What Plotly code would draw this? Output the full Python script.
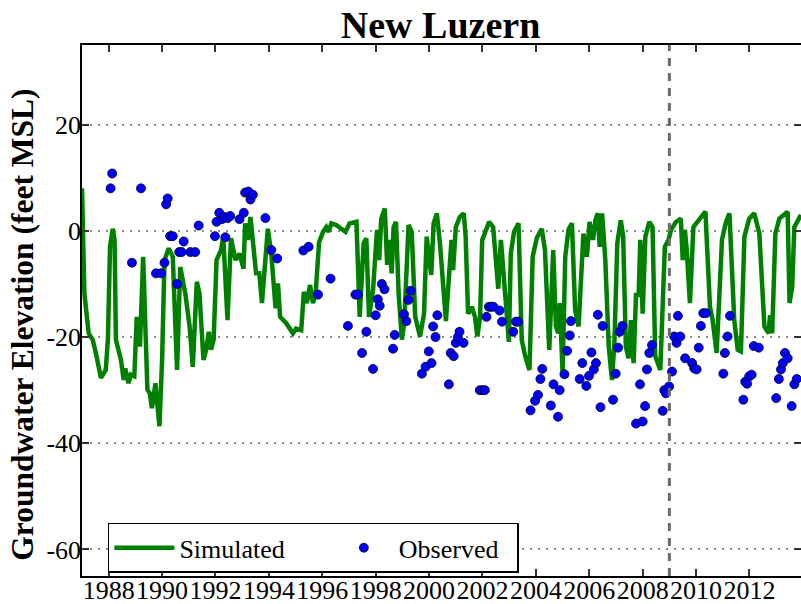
import plotly.graph_objects as go

title_text = "New Luzern"
y_label = "Groundwater Elevation (feet MSL)"
split_year = 2009.0

# simulated head (decimal year, feet MSL)
sim_year = [
    1987.00, 1987.09, 1987.25, 1987.40, 1987.52, 1987.71, 1987.89, 1987.97, 1988.05, 1988.15,
    1988.22, 1988.27, 1988.46, 1988.56, 1988.62, 1988.74, 1988.83, 1988.96, 1989.05, 1989.17,
    1989.29, 1989.45, 1989.54, 1989.62, 1989.75, 1989.90, 1990.00, 1990.09, 1990.25, 1990.40,
    1990.56, 1990.68, 1990.87, 1991.03, 1991.15, 1991.30, 1991.40, 1991.55, 1991.65, 1991.75,
    1991.83, 1991.93, 1992.04, 1992.21, 1992.29, 1992.45, 1992.58, 1992.75, 1992.90, 1993.05,
    1993.11, 1993.21, 1993.31, 1993.40, 1993.52, 1993.64, 1993.74, 1993.96, 1994.09, 1994.25,
    1994.34, 1994.42, 1994.52, 1994.65, 1994.90, 1995.02, 1995.21, 1995.31, 1995.42, 1995.54,
    1995.65, 1995.75, 1995.88, 1996.03, 1996.15, 1996.24, 1996.34, 1996.52, 1996.87, 1997.02,
    1997.28, 1997.40, 1997.55, 1997.65, 1997.75, 1997.90, 1998.05, 1998.13, 1998.21, 1998.34,
    1998.43, 1998.50, 1998.60, 1998.67, 1998.76, 1998.86, 1998.98, 1999.07, 1999.23, 1999.35,
    1999.48, 1999.66, 1999.81, 1999.91, 2000.08, 2000.17, 2000.29, 2000.41, 2000.63, 2000.77,
    2000.84, 2000.90, 2001.00, 2001.15, 2001.30, 2001.37, 2001.46, 2001.60, 2001.72, 2001.81,
    2001.91, 2001.99, 2002.09, 2002.25, 2002.40, 2002.50, 2002.59, 2002.69, 2002.78, 2002.86,
    2002.99, 2003.06, 2003.18, 2003.35, 2003.47, 2003.60, 2003.76, 2003.88, 2004.03, 2004.22,
    2004.34, 2004.50, 2004.65, 2004.75, 2004.84, 2004.90, 2005.00, 2005.10, 2005.22, 2005.35,
    2005.47, 2005.60, 2005.78, 2005.91, 2006.01, 2006.14, 2006.23, 2006.32, 2006.39, 2006.48,
    2006.60, 2006.73, 2006.85, 2006.94, 2007.05, 2007.18, 2007.27, 2007.37, 2007.47, 2007.56,
    2007.66, 2007.75, 2007.85, 2007.91, 2008.00, 2008.10, 2008.25, 2008.37, 2008.47, 2008.66,
    2008.83, 2008.97, 2009.06, 2009.25, 2009.43, 2009.50, 2009.58, 2009.65, 2009.77, 2009.90,
    2010.06, 2010.35, 2010.52, 2010.62, 2010.77, 2010.97, 2011.12, 2011.25, 2011.43, 2011.56,
    2011.68, 2011.81, 2011.99, 2012.18, 2012.37, 2012.56, 2012.72, 2012.77, 2012.85, 2012.97,
    2013.12, 2013.43, 2013.50, 2013.60, 2013.68, 2013.85, 2013.93,
]
sim_level = [
    8.0, -11.8, -19.3, -20.5, -23.0, -27.7, -26.2, -20.5, -3.0, 0.4,
    -1.7, -20.5, -24.3, -28.1, -25.9, -28.7, -27.1, -27.4, -16.2, -21.8,
    -4.9, -29.9, -30.6, -33.4, -28.7, -36.8, -24.3, -5.5, -3.3, -4.9,
    -26.2, -6.8, -11.8, -18.0, -25.6, -9.6, -11.8, -24.3, -22.4, -19.0,
    -22.4, -20.5, -5.5, -3.6, -1.1, -16.8, -1.4, -5.5, -4.3, -7.1,
    1.4, -1.7, 2.6, -2.3, -8.0, -8.0, -13.6, 0.4, -4.3, -14.6,
    -9.9, -16.2, -16.8, -17.4, -19.3, -18.4, -18.7, -11.5, -13.6, -10.2,
    -13.6, -11.8, -2.1, -0.2, 0.7, -0.2, 1.4, 1.1, -0.2, 1.4,
    1.7, -16.2, -2.3, -1.4, -16.2, -11.2, 0.2, -5.5, 2.3, 4.2,
    -6.4, -1.7, -8.0, 0.7, 1.7, -11.8, -20.5, -17.4, 1.1, -0.2,
    -16.2, -19.9, -15.6, -1.1, -8.3, 1.4, 3.3, -2.5, -17.0, -7.4,
    -1.7, -7.4, 0.7, 2.6, 3.3, -1.1, -15.6, -14.3, -16.2, -19.9,
    -16.2, -1.7, -0.2, 1.7, 0.7, -5.5, -10.9, -1.7, -7.4, -13.0,
    -20.9, -4.3, -0.2, 1.4, -20.5, -23.6, -26.2, -4.9, -1.4, 0.4,
    -3.6, -22.4, -3.6, -18.0, -19.3, -13.6, -26.8, -4.9, 0.2, 1.4,
    -14.9, -18.0, -0.5, -4.9, 1.7, -1.7, 2.0, 3.3, -3.0, 3.3,
    -5.5, -21.8, -28.1, -21.1, -2.3, 2.0, -1.1, -21.8, -24.0, -16.8,
    -24.9, -12.1, -12.1, -1.7, -15.6, -1.1, 1.7, 0.7, -23.6, -26.2,
    -3.0, -1.7, 0.2, 1.7, 2.3, -5.5, 0.2, -3.6, -13.6, 0.7,
    1.7, 3.6, -14.3, -16.8, -23.0, -1.7, 1.7, 3.3, -16.8, -22.4,
    -22.7, -1.1, 2.3, 3.3, -0.5, -18.0, -19.3, -15.9, -19.3, -0.5,
    2.3, 3.6, -13.6, -10.6, 0.7, 2.6, 3.0,
]

# observed head
obs_year = [
    1988.07, 1988.13, 1988.87, 1989.21, 1989.77, 1989.96, 1990.09, 1990.15, 1990.21, 1990.30,
    1990.40, 1990.56, 1990.64, 1990.73, 1990.81, 1991.06, 1991.24, 1991.37, 1991.98, 1992.04,
    1992.14, 1992.24, 1992.33, 1992.37, 1992.45, 1992.55, 1992.90, 1993.06, 1993.11, 1993.23,
    1993.31, 1993.40, 1993.87, 1994.09, 1994.31, 1995.29, 1995.49, 1995.84, 1996.31, 1996.96,
    1997.24, 1997.34, 1997.49, 1997.65, 1997.90, 1998.00, 1998.08, 1998.15, 1998.23, 1998.33,
    1998.65, 1998.71, 1999.06, 1999.15, 1999.23, 1999.31, 1999.73, 1999.87, 1999.99, 2000.09,
    2000.15, 2000.24, 2000.31, 2000.74, 2000.81, 2000.92, 2001.00, 2001.08, 2001.14, 2001.29,
    2001.90, 2002.00, 2002.09, 2002.15, 2002.24, 2002.33, 2002.41, 2002.64, 2002.73, 2003.15,
    2003.25, 2003.33, 2003.80, 2003.97, 2004.08, 2004.17, 2004.24, 2004.56, 2004.66, 2004.83,
    2004.89, 2005.07, 2005.17, 2005.27, 2005.31, 2005.64, 2005.74, 2005.89, 2005.99, 2006.08,
    2006.17, 2006.25, 2006.32, 2006.42, 2006.50, 2006.89, 2006.99, 2007.08, 2007.14, 2007.24,
    2007.75, 2007.90, 2008.00, 2008.09, 2008.16, 2008.25, 2008.35, 2008.75, 2008.81, 2008.87,
    2008.99, 2009.10, 2009.18, 2009.27, 2009.32, 2009.41, 2009.59, 2009.85, 2009.93, 2010.02,
    2010.10, 2010.18, 2010.27, 2010.37, 2011.02, 2011.08, 2011.18, 2011.27, 2011.77, 2011.84,
    2011.91, 2011.99, 2012.08, 2012.16, 2012.35, 2013.00, 2013.10, 2013.18, 2013.25, 2013.33,
    2013.43, 2013.58, 2013.68, 2013.77,
]
obs_level = [
    8.0, 10.8, -6.0, 8.0, -8.0, -8.0, -6.0, 5.0, 6.1, -1.0,
    -1.0, -10.0, -4.0, -4.0, -2.0, -4.0, -4.0, 1.0, -1.0, 1.7,
    3.4, 2.2, 2.6, -1.2, 2.4, 2.8, 2.2, 3.4, 7.2, 7.4,
    5.9, 6.8, 2.4, -3.6, -5.2, -3.7, -3.0, -12.0, -9.0, -17.9,
    -12.0, -12.0, -23.0, -19.0, -26.0, -15.9, -12.9, -14.1, -10.0, -11.0,
    -22.2, -19.6, -15.7, -17.0, -13.0, -11.3, -26.9, -25.6, -22.7, -24.9,
    -18.0, -20.0, -15.9, -28.9, -23.0, -23.6, -21.1, -20.0, -19.0, -21.1,
    -30.0, -30.0, -30.0, -16.2, -14.3, -14.3, -14.3, -15.0, -17.1, -19.0,
    -17.1, -17.1, -33.8, -32.0, -30.9, -27.9, -26.0, -32.9, -28.9, -35.0,
    -30.0, -27.0, -22.6, -19.7, -17.0, -27.9, -24.9, -29.2, -27.3, -22.9,
    -26.1, -24.9, -15.8, -33.2, -17.9, -31.8, -26.9, -22.0, -19.0, -17.9,
    -36.3, -28.9, -35.9, -33.0, -26.1, -23.0, -21.5, -33.9, -30.0, -30.6,
    -29.3, -26.5, -19.9, -21.1, -16.0, -19.9, -24.0, -24.9, -25.9, -26.1,
    -22.0, -17.9, -15.5, -15.5, -26.9, -23.0, -19.9, -16.0, -31.8, -28.4,
    -28.8, -27.4, -27.1, -21.7, -22.0, -31.5, -27.9, -26.1, -24.9, -23.0,
    -24.0, -33.0, -28.9, -27.9,
]

x_tick_vals = [1988, 1990, 1992, 1994, 1996, 1998, 2000, 2002, 2004, 2006, 2008, 2010, 2012]
x_tick_text = [str(v) for v in x_tick_vals]
y_tick_vals = [-60, -40, -20, 0, 20]
y_tick_text = ["-60", "-40", "-20", "0", "20"]

serif = "Liberation Serif"
pad = "\u00a0"

fig = go.Figure()
fig.add_trace(go.Scatter(
    x=sim_year, y=sim_level, mode="lines", name="Simulated" + pad * 6,
    line=dict(color="#008000", width=4.5),
))
fig.add_trace(go.Scatter(
    x=obs_year, y=obs_level, mode="markers", name="Observed" + pad * 2,
    marker=dict(color="#0000ff", size=9, line=dict(color="#000022", width=0.8)),
))

# calibration / validation split
fig.add_vline(x=split_year, line=dict(color="#6b6b6b", width=3, dash="8px,7px"))

# y label as a rotated annotation so it sits where the original has it
fig.add_annotation(
    text=y_label, textangle=-90, showarrow=False,
    xref="paper", yref="paper", x=-0.083, y=0.474, xanchor="center", yanchor="middle",
    font=dict(size=31.5, weight="bold"),
)

fig.update_layout(
    width=801, height=604,
    margin=dict(l=82, r=0, t=45, b=28, autoexpand=False),
    paper_bgcolor="white", plot_bgcolor="white",
    font=dict(family=serif, size=26, color="black"),
    title=dict(text=title_text, x=0.55, xanchor="center", y=0.9586, yanchor="middle",
               yref="container", font=dict(size=38, weight="bold")),
    legend=dict(orientation="h", x=0.036, y=0.006, xanchor="left", yanchor="bottom",
                bordercolor="black", borderwidth=1.5, bgcolor="white",
                font=dict(size=26), itemwidth=60),
)
fig.update_xaxes(
    range=[1987, 2013.93], tickvals=x_tick_vals, ticktext=x_tick_text, tickangle=0,
    ticklabelstandoff=-10,
    ticks="inside", ticklen=7, tickwidth=1.5, tickcolor="#333",
    showline=True, linecolor="black", linewidth=1.5, mirror="ticks",
    showgrid=False, zeroline=False, automargin=False,
)
fig.update_yaxes(
    range=[-65, 35], tickvals=y_tick_vals, ticktext=y_tick_text, ticklabelstandoff=-6,
    ticks="inside", ticklen=7, tickwidth=1.5, tickcolor="#333",
    showline=True, linecolor="black", linewidth=1.5, mirror="ticks",
    showgrid=True, gridcolor="#8a8a8a", gridwidth=1.5, griddash="2px,6px",
    zeroline=False, automargin=False,
)

# the page body has a default 8px margin; drop it so the figure fills the window
fig.write_html("out.html", config={"displayModeBar": False},
               post_script="document.body.style.margin='0';")
